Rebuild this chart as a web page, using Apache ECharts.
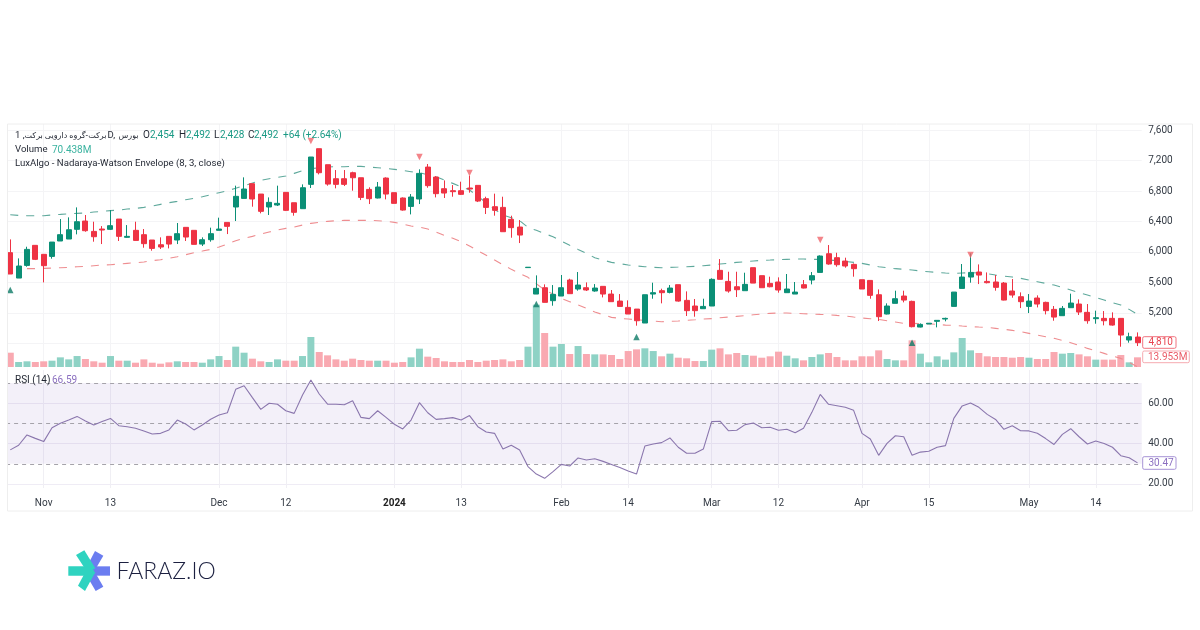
<!DOCTYPE html>
<html><head><meta charset="utf-8">
<style>html,body{margin:0;padding:0;background:#fff}#c{width:1200px;height:630px}</style>
<script src="https://cdn.jsdelivr.net/npm/echarts@6/dist/echarts.min.js"></script>
</head><body><div id="c"></div>
<script>
const categories = ['2023-10-28','2023-10-29','2023-10-30','2023-10-31','2023-11-01','2023-11-04','2023-11-05','2023-11-06','2023-11-07','2023-11-08','2023-11-11','2023-11-12','2023-11-13','2023-11-14','2023-11-15','2023-11-18','2023-11-19','2023-11-20','2023-11-21','2023-11-22','2023-11-25','2023-11-26','2023-11-27','2023-11-28','2023-11-29','2023-12-02','2023-12-03','2023-12-04','2023-12-05','2023-12-06','2023-12-09','2023-12-10','2023-12-11','2023-12-12','2023-12-13','2023-12-16','2023-12-17','2023-12-18','2023-12-19','2023-12-20','2023-12-23','2023-12-24','2023-12-25','2023-12-26','2023-12-27','2023-12-30','2024-01-01','2024-01-02','2024-01-03','2024-01-06','2024-01-07','2024-01-08','2024-01-09','2024-01-10','2024-01-13','2024-01-14','2024-01-15','2024-01-16','2024-01-17','2024-01-20','2024-01-21','2024-01-22','2024-01-23','2024-01-24','2024-01-27','2024-01-28','2024-02-03','2024-02-04','2024-02-05','2024-02-06','2024-02-07','2024-02-10','2024-02-12','2024-02-13','2024-02-14','2024-02-17','2024-02-18','2024-02-19','2024-02-20','2024-02-24','2024-02-25','2024-02-26','2024-02-27','2024-02-28','2024-03-02','2024-03-03','2024-03-04','2024-03-05','2024-03-06','2024-03-09','2024-03-10','2024-03-11','2024-03-12','2024-03-13','2024-03-16','2024-03-17','2024-03-18','2024-03-19','2024-03-20','2024-03-23','2024-03-24','2024-03-25','2024-04-01','2024-04-03','2024-04-06','2024-04-07','2024-04-08','2024-04-09','2024-04-13','2024-04-14','2024-04-15','2024-04-16','2024-04-17','2024-04-20','2024-04-21','2024-04-22','2024-04-23','2024-04-24','2024-04-27','2024-04-28','2024-04-29','2024-04-30','2024-05-01','2024-05-04','2024-05-06','2024-05-07','2024-05-08','2024-05-11','2024-05-12','2024-05-13','2024-05-14','2024-05-15','2024-05-18','2024-05-19','2024-05-20','2024-05-21'];
const tickLabels = {'2023-11-01':'Nov','2023-11-13':'13','2023-12-02':'Dec','2023-12-12':'12','2024-01-01':'2024','2024-01-13':'13','2024-02-03':'Feb','2024-02-14':'14','2024-03-02':'Mar','2024-03-12':'12','2024-04-01':'Apr','2024-04-15':'15','2024-05-01':'May','2024-05-14':'14'};
const opens = [5991,5658,5824,6087,5969,5942,6144,6170,6297,6406,6270,6301,6297,6432,6192,6284,6227,6157,6095,6205,6157,6323,6284,6104,6161,6284,6388,6590,6703,6896,6760,6590,6616,6782,6646,6568,6887,7355,7145,6961,6961,7040,6974,6821,6708,6970,6778,6708,6598,6695,7114,6983,6830,6804,6804,6839,6874,6699,6594,6585,6428,6327,5795,5448,5531,5361,5422,5632,5514,5531,5488,5549,5448,5356,5273,5251,5068,5448,5492,5470,5571,5365,5291,5256,5291,5759,5614,5544,5492,5794,5689,5588,5606,5466,5448,5571,5632,5732,5977,5925,5881,5837,5636,5627,5439,5186,5326,5422,5352,5015,5055,5090,5120,5286,5522,5671,5737,5614,5606,5592,5488,5413,5286,5396,5339,5247,5164,5269,5317,5208,5125,5129,5129,5129,4845,4884];
const closes = [5711,5816,6034,5903,5820,6130,6227,6292,6397,6279,6200,6288,6345,6205,6205,6152,6109,6047,6065,6104,6240,6196,6100,6161,6240,6301,6336,6730,6826,6695,6533,6651,6638,6546,6520,6843,7246,7040,6891,6887,6887,6974,6716,6699,6852,6760,6638,6550,6721,7031,6870,6765,6773,6791,6756,6826,6668,6585,6546,6266,6319,6222,5800,5523,5339,5444,5531,5453,5566,5501,5527,5448,5348,5286,5186,5098,5439,5466,5466,5527,5356,5230,5230,5286,5641,5641,5488,5505,5575,5592,5531,5544,5501,5514,5474,5527,5689,5947,5842,5833,5816,5781,5514,5431,5151,5291,5387,5369,5020,5050,5065,5103,5129,5474,5671,5732,5697,5597,5536,5369,5435,5348,5356,5317,5230,5146,5260,5330,5212,5098,5138,5098,5041,4910,4888,4810];
const highs = [6165,5916,6069,6087,5969,6130,6432,6454,6585,6485,6397,6340,6550,6432,6353,6397,6301,6157,6192,6205,6380,6323,6284,6192,6319,6450,6388,6870,6979,6896,6760,6716,6870,6782,6646,6887,7246,7355,7145,7075,7075,7053,6974,6848,6918,6979,6778,6716,6760,7084,7154,6996,6939,6878,6922,7001,6874,6725,6765,6725,6476,6419,5800,5693,5575,5566,5698,5649,5737,5601,5579,5549,5501,5448,5365,5251,5439,5597,5518,5566,5571,5483,5383,5387,5654,5907,5741,5741,5728,5794,5689,5676,5667,5711,5606,5632,5737,5955,6091,5990,5925,5850,5636,5627,5509,5326,5492,5492,5361,5063,5065,5103,5138,5474,5842,5982,5837,5732,5697,5606,5645,5470,5448,5431,5348,5291,5291,5453,5378,5317,5230,5225,5208,5129,4941,4945];
const lows = [5711,5658,5807,5894,5601,5912,6144,6170,6231,6266,6135,6104,6288,6144,6187,6148,6056,6017,6039,6047,6104,6144,6100,6078,6135,6284,6235,6406,6703,6594,6507,6485,6603,6537,6476,6568,6839,7018,6870,6835,6865,6804,6681,6629,6703,6690,6638,6542,6493,6629,6843,6716,6708,6725,6747,6778,6655,6498,6476,6266,6187,6117,5795,5448,5339,5295,5422,5453,5492,5488,5479,5404,5348,5282,5186,5033,5068,5387,5326,5457,5348,5160,5151,5256,5291,5641,5466,5409,5492,5592,5531,5536,5466,5466,5448,5522,5575,5732,5833,5807,5794,5676,5514,5387,5094,5181,5326,5339,5011,5011,5055,5011,5090,5286,5522,5597,5579,5588,5492,5365,5400,5264,5199,5273,5181,5098,5164,5269,5173,5059,5059,5037,5033,4757,4810,4766];
const volumesM = [20.6,7.2,8.2,7.2,8.2,9.1,13.9,11,15.8,11.5,8.2,6.2,15.8,9.1,9.1,6.2,11,6.2,4.8,6.7,8.2,7.2,7.2,6.2,11,15.8,10.1,29.3,20.6,12,8.2,7.2,11,9.1,9.1,15.8,43.2,21.6,16.8,11,9.1,12,10.1,9.1,9.1,9.1,6.2,7.2,13.9,26.4,14.9,13,8.2,7.2,7.2,10.1,7.2,9.1,10.1,11,8.2,10.1,29.3,89.8,49,29.3,33.1,18.7,30.2,18.7,18.2,18.2,17.3,11.5,23,25.4,26.9,23,15.4,19.2,13.4,12.5,8.6,8.6,25,26.9,18.2,20.2,17.3,16.3,13.4,15.4,22.1,16.3,12.5,9.6,14.4,18.2,20.2,14.4,9.6,9.6,15.4,15.4,24,11.5,9.6,9.6,38.4,19.2,6.7,15.4,10.6,21.1,41.8,24,20.2,15.4,14.4,14.4,13.4,14.4,13.4,11.5,11.5,21.6,19.2,20.2,18.2,15.4,10.6,10.6,10.6,17.3,6.7,13.95];
const envelopeUpper = [6489,6480,6476,6476,6476,6485,6493,6502,6507,6511,6524,6533,6542,6550,6563,6572,6585,6603,6625,6646,6664,6686,6703,6725,6751,6778,6804,6835,6870,6904,6940,6961,6979,6996,7031,7066,7093,7106,7114,7119,7119,7123,7123,7114,7106,7097,7084,7071,7053,7040,7014,6988,6944,6900,6856,6813,6730,6646,6559,6485,6450,6410,6323,6284,6240,6200,6144,6087,6034,5982,5925,5894,5864,5846,5829,5816,5807,5798,5794,5798,5802,5807,5811,5820,5829,5842,5851,5864,5872,5881,5890,5894,5899,5903,5907,5907,5903,5903,5894,5886,5877,5864,5851,5829,5807,5794,5781,5772,5763,5750,5741,5732,5724,5719,5724,5728,5724,5715,5697,5684,5671,5654,5632,5610,5588,5566,5536,5501,5466,5435,5404,5369,5334,5304,5247,5181];
const envelopeLower = [null,null,5781,5781,5785,5789,5794,5798,5807,5811,5820,5829,5833,5842,5851,5859,5868,5886,5899,5916,5938,5964,5991,6012,6034,6065,6104,6148,6179,6205,6235,6262,6288,6310,6327,6353,6375,6388,6402,6410,6415,6415,6415,6415,6410,6402,6388,6367,6340,6327,6301,6262,6218,6179,6135,6078,6017,5956,5894,5833,5772,5719,5667,5584,5501,5448,5391,5348,5304,5260,5212,5177,5142,5129,5120,5111,5103,5094,5085,5090,5094,5103,5111,5120,5125,5138,5146,5155,5164,5177,5186,5195,5199,5199,5195,5190,5186,5181,5177,5168,5160,5146,5133,5125,5116,5098,5081,5063,5063,5059,5059,5050,5041,5037,5028,5020,5015,5011,4998,4985,4972,4954,4932,4910,4888,4867,4840,4810,4775,4735,4705,4670,4635,4604,4552,4495];
const rsiValues = [36.9,39.2,44.3,42.6,41,47.9,50.1,51.7,53.5,51.2,49.2,51,52.5,48.9,48.4,47.6,46.3,44.8,45.1,46.8,51.7,49.7,46.8,49.2,52.1,54.2,55.3,66.9,68.7,62.8,57,60,59.5,56.3,55,64.1,71.5,64.6,59.6,59.5,59.3,61.3,53,52.4,56.3,53,49.6,47.3,51.7,60.3,55.3,52,52.4,52.9,51.7,53.9,48.4,45.8,45.1,37.3,39.2,36.8,28.6,24.9,22.8,26.1,29.7,28.9,32.9,31.9,32.5,31.2,29.7,28.2,26.4,24.9,38.8,39.8,40.5,42.8,38.2,35.2,35.2,37.3,50.9,51.1,46.4,46.6,49.4,50.2,47.9,48.1,46.6,47.1,45.4,47.6,55.5,64.4,59.5,58.8,58,56.5,45.1,42.3,34.2,40.1,43.9,43.4,34.2,35.8,36.2,38.2,39,52.5,58.7,60.1,58,54.5,52,47.1,48.9,46.4,46.3,45.1,42.5,39.6,44.6,47.4,43.4,39.8,41.3,40.1,38.2,34,33,30.47];
const sellIndex = [36,49,55,97,115];
const sellPrice = [7456,7246,7036,6157,5960];
const buyIndex = [0,63,75,108];
const buyPrice = [5501,5317,4884,4809];
const priceTickValues = [4800,5200,5600,6000,6400,6800,7200,7600];
const priceLabelValues = [5200,5600,6000,6400,6800,7200,7600];
const rsiTickValues = [20,40,60];
const rsiLevels = [70,50,30];

const UP='#0b8f76', DOWN='#ee3344', UPV='#8ed2c5', DOWNV='#f9a9b1';
const chart = echarts.init(document.getElementById('c'),null,{renderer:'canvas'});
const F='Roboto, "Noto Sans", sans-serif';
const AR='"Noto Sans", "DejaVu Sans", sans-serif';
const showTick=(i,v)=>tickLabels[v]!==undefined;
const candle=categories.map((_,i)=>[opens[i],closes[i],lows[i],highs[i]]);
const vol=volumesM.map((v,i)=>({value:v,itemStyle:{color:closes[i]>=opens[i]?UPV:DOWNV}}));
const txt=(x,y,text,fill,size,extra)=>({type:'text',x,y,silent:true,z:50,style:Object.assign({text,fill,font:`${size||10}px ${F}`,textVerticalAlign:'middle'},extra||{})});
const P=(pts,fill)=>({type:'polygon',silent:true,z:50,shape:{points:pts.map(p=>[50+p[0]/3,535+p[1]/3])},style:{fill}});
const box=(x,y,w,h,stroke)=>({type:'rect',silent:true,z:49,shape:{x,y,width:w,height:h,r:1.5},style:{fill:'#fff',stroke,lineWidth:1}});
const TEAL='#2fd3c0',BLUE='#6b7df0',INK='#1f2430';
const graphic=[
 {type:'rect',silent:true,z:40,shape:{x:0,y:0,width:7.5,height:630},style:{fill:'#fff'}},
 {type:'rect',silent:true,z:41,shape:{x:7.5,y:124,width:1185,height:387},style:{fill:'none',stroke:'#eeeeee',lineWidth:1}},
 txt(15,135.5,'1 ,',INK,9.5),
 txt(106.5,135.5,'برکت-گروه دارویی برکت',INK,8,{textAlign:'right',font:`8px ${AR}`}),
 txt(107.5,135.5,'D,',INK,9.5),
 txt(118.5,135.5,'بورس',INK,8,{font:`8px ${AR}`}),
 txt(143,135.5,'O',INK,10),txt(150,135.5,'2,454','#1a9a85',10),
 txt(179,135.5,'H',INK,10),txt(186,135.5,'2,492','#1a9a85',10),
 txt(214,135.5,'L',INK,10),txt(220,135.5,'2,428','#1a9a85',10),
 txt(248,135.5,'C',INK,10),txt(254,135.5,'2,492','#1a9a85',10),
 txt(283,135.5,'+64 (+2.64%)','#1a9a85',10),
 txt(15,150,'Volume',INK,9.6),txt(52,150,'70.438M','#3bb3a0',10),
 txt(15,164,'LuxAlgo - Nadaraya-Watson Envelope (8, 3, close)',INK,9.6),
 txt(15,380,'RSI (14)',INK,10),txt(52,380,'66.59','#8b6fc0',10),
 box(1142.7,336.7,33.3,11.6,'#f0737f'),txt(1148.5,342.8,'4,810','#e8434f',10),
 box(1142.7,351,46.6,11.7,'#f6aab1'),txt(1148,357.2,'13.953M','#ea5c68',10),
 box(1142.7,456.7,33.3,12.6,'#a793d6'),txt(1148.5,463.2,'30.47','#8b6fc0',10),
 P([[135,48],[160,62],[135,105],[112,92]],BLUE),
 P([[112,125],[135,112],[160,155],[137,168]],BLUE),
 P([[125,94],[180,94],[180,122],[125,122]],BLUE),
 P([[78,60],[103,46],[136,100],[112,112]],TEAL),
 P([[84,152],[112,100],[136,112],[105,168]],TEAL),
 P([[55,94],[120,94],[133,108],[120,122],[55,122]],TEAL),
 {type:'text',x:116.5,y:572,silent:true,z:50,style:{text:'FARAZ.IO',fill:'#1c2040',font:'300 23px Lato, Inter, sans-serif',textVerticalAlign:'middle'}}
];
chart.setOption({
 animation:false,backgroundColor:'#fff',graphic,
 grid:[{left:6.1,right:1200-1141.7,top:124,height:243},{left:6.1,right:1200-1141.7,top:370,height:118}],
 xAxis:[
  {type:'category',gridIndex:0,data:categories,axisLine:{show:false},axisTick:{show:false},axisLabel:{show:false,interval:showTick},
   splitLine:{show:true,alignWithLabel:true,interval:showTick,lineStyle:{color:'#f4f4f6',width:1}}},
  {type:'category',gridIndex:1,data:categories,axisLine:{show:false},axisTick:{show:false},
   axisLabel:{interval:showTick,margin:10,hideOverlap:false,color:'#333a44',fontFamily:F,fontSize:10,
    formatter:v=>tickLabels[v]==='2024'?'{b|2024}':(tickLabels[v]||''),rich:{b:{fontWeight:'bold',color:'#222',fontFamily:F,fontSize:10}}},
   splitLine:{show:true,alignWithLabel:true,interval:showTick,lineStyle:{color:'#f0eff4',width:1}}}
 ],
 yAxis:[
  {type:'value',gridIndex:0,position:'right',min:4491,max:7679,axisLine:{show:false},axisTick:{show:false,customValues:priceTickValues},
   axisLabel:{margin:6.5,color:'#333a44',fontFamily:F,fontSize:10,customValues:priceLabelValues,formatter:v=>v.toLocaleString('en-US')},
   splitLine:{show:true,lineStyle:{color:'#f4f4f6',width:1}}},
  {type:'value',gridIndex:0,min:0,max:350,show:false,splitLine:{show:false}},
  {type:'value',gridIndex:1,position:'right',min:18,max:76.5,axisLine:{show:false},axisTick:{show:false,customValues:rsiTickValues},
   axisLabel:{margin:6.5,color:'#333a44',fontFamily:F,fontSize:10,customValues:rsiTickValues,formatter:v=>v.toFixed(2)},
   splitLine:{show:true,lineStyle:{color:'#efecf5',width:1}}}
 ],
 series:[
  {name:'Volume',type:'bar',xAxisIndex:0,yAxisIndex:1,data:vol,barWidth:7,z:1},
  {name:'Upper',type:'line',xAxisIndex:0,yAxisIndex:0,data:envelopeUpper,symbol:'none',z:2,connectNulls:false,lineStyle:{color:'#5fa99c',width:1.1,type:[8,8]}},
  {name:'Lower',type:'line',xAxisIndex:0,yAxisIndex:0,data:envelopeLower,symbol:'none',z:2,connectNulls:false,lineStyle:{color:'#ee8d90',width:1.1,type:[8,8]}},
  {name:'Price',type:'candlestick',xAxisIndex:0,yAxisIndex:0,data:candle,barWidth:5.5,z:3,
   itemStyle:{color:UP,color0:DOWN,borderColor:UP,borderColor0:DOWN,borderWidth:1}},
  {name:'Sell',type:'scatter',xAxisIndex:0,yAxisIndex:0,z:4,symbol:'triangle',symbolRotate:180,symbolSize:6.5,
   data:sellIndex.map((x,i)=>[x,sellPrice[i]]),itemStyle:{color:'#f0656c'}},
  {name:'Buy',type:'scatter',xAxisIndex:0,yAxisIndex:0,z:4,symbol:'triangle',symbolSize:6.5,
   data:buyIndex.map((x,i)=>[x,buyPrice[i]]),itemStyle:{color:'#0e7a66'}},
  {name:'RSI',type:'line',xAxisIndex:1,yAxisIndex:2,data:rsiValues,symbol:'none',z:5,lineStyle:{color:'#8a76ad',width:1.1},
   markArea:{silent:true,itemStyle:{color:'rgba(126,87,194,0.09)'},data:[[{yAxis:rsiLevels[0]},{yAxis:rsiLevels[2]}]]},
   markLine:{silent:true,symbol:'none',label:{show:false},lineStyle:{color:'#a5a3aa',type:[4,4],width:1},data:rsiLevels.map(v=>({yAxis:v}))}}
 ]
});
</script></body></html>
